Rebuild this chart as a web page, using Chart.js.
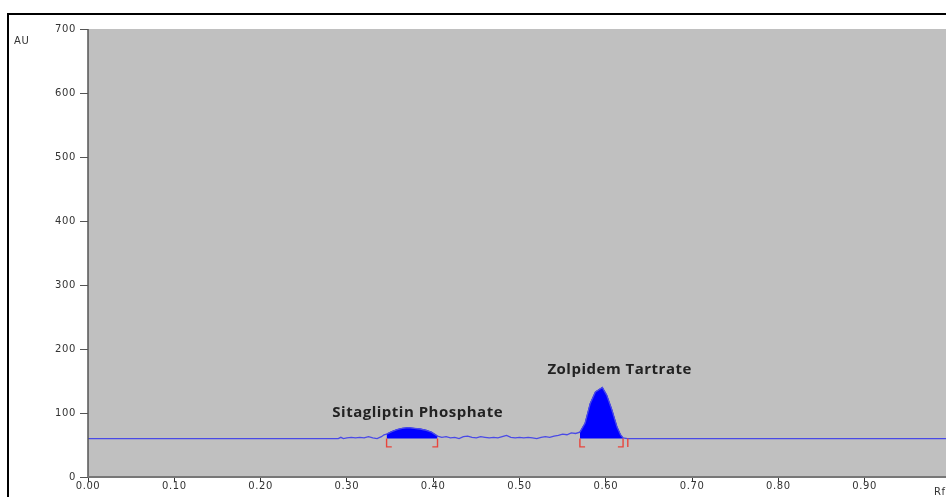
<!DOCTYPE html>
<html>
<head>
<meta charset="utf-8">
<script src="https://cdn.jsdelivr.net/npm/chart.js@4.4.0/dist/chart.umd.min.js"></script>
<style>
  html, body { margin: 0; padding: 0; background: #fff; overflow: hidden; }
  #wrap { position: relative; width: 946px; height: 497px; overflow: hidden; }
  #frame { position: absolute; left: 7px; top: 13px; width: 980px; height: 520px; border: 2px solid #000; box-sizing: border-box; pointer-events: none; }
  canvas { position: absolute; left: 0; top: 0; }
</style>
</head>
<body>
<div id="wrap">
  <canvas id="chromChart" width="960" height="497"></canvas>
  <div id="frame"></div>
</div>
<script>
// densitogram trace: Rf vs AU
const rfValues = [0.00, 0.29, 0.293, 0.296, 0.300, 0.305, 0.310, 0.315, 0.320, 0.325, 0.330, 0.335, 0.340, 0.343,
  0.346, 0.352, 0.358, 0.364, 0.371, 0.378, 0.385, 0.392, 0.398, 0.405,
  0.410, 0.415, 0.420, 0.425, 0.430, 0.435, 0.440, 0.445, 0.450, 0.455, 0.460, 0.465, 0.470, 0.475, 0.480, 0.485,
  0.490, 0.495, 0.500, 0.505, 0.510, 0.515, 0.520, 0.525, 0.530, 0.535, 0.540, 0.545, 0.550, 0.555, 0.560, 0.565, 0.570,
  0.576, 0.582, 0.588, 0.596, 0.601, 0.607, 0.613, 0.617, 0.620, 0.625, 1.00];
const auValues = [60, 60, 62, 60, 61, 62, 61, 62, 61, 63, 61, 60, 63, 66,
  67, 71, 74, 76, 77, 76, 75, 73, 70, 64,
  62, 63, 61, 62, 60, 63, 64, 62, 61, 63, 62, 61, 62, 61, 63, 65,
  62, 61, 62, 61, 62, 61, 60, 62, 63, 62, 64, 65, 67, 66, 69, 68, 70,
  84, 115, 133, 140, 128, 105, 78, 66, 61, 60, 60];

const yTicks = [0, 100, 200, 300, 400, 500, 600, 700];
const xTicks = [0.0, 0.1, 0.2, 0.3, 0.4, 0.5, 0.6, 0.7, 0.8, 0.9];

// integrated peaks (start Rf, end Rf) and their names
const peakNames = ['Sitagliptin Phosphate', 'Zolpidem Tartrate'];
const peakStart = [0.346, 0.570];
const peakEnd = [0.405, 0.620];
const labelRf = [0.382, 0.616];
const labelAu = [101, 167];
const baselineAu = 60;

// red integration brackets
const bracketRf = [0.346, 0.405, 0.570, 0.620, 0.6255];
const bracketDir = [1, -1, 1, -1, 0];
const bracketLow = 47;

const tracePts = rfValues.map((x, i) => ({ x: x, y: auValues[i] }));

const datasets = [];
peakStart.forEach((s, i) => {
  datasets.push({
    data: tracePts.filter(p => p.x >= s && p.x <= peakEnd[i]),
    borderColor: '#0000ff',
    borderWidth: 1,
    backgroundColor: '#0000ff',
    fill: { value: baselineAu },
    pointRadius: 0,
    order: 2
  });
});
datasets.push({
  data: tracePts,
  borderColor: '#4a4ae6',
  borderWidth: 1.3,
  fill: false,
  pointRadius: 0,
  order: 1
});
bracketRf.forEach((x, i) => {
  datasets.push({
    data: [{ x: x, y: baselineAu }, { x: x, y: bracketLow }, { x: x + bracketDir[i] * 0.006, y: bracketLow }],
    borderColor: '#e8453c',
    borderWidth: 1.4,
    fill: false,
    pointRadius: 0,
    order: 0
  });
});

const tickFont = { family: '"DejaVu Sans", sans-serif', size: 10 };

const plotBg = {
  id: 'plotBg',
  beforeDraw(chart) {
    const { ctx, chartArea: a } = chart;
    ctx.save();
    ctx.fillStyle = '#c0c0c0';
    ctx.fillRect(a.left, a.top, a.right - a.left, a.bottom - a.top);
    ctx.restore();
    // the instrument's tick font is drawn wide
    ctx.letterSpacing = '0.6px';
  },
  afterDraw(chart) {
    const { ctx, chartArea: a, scales } = chart;
    ctx.save();
    // axes
    ctx.strokeStyle = '#555';
    ctx.lineWidth = 1.5;
    ctx.beginPath();
    ctx.moveTo(a.left, a.top);
    ctx.lineTo(a.left, a.bottom);
    ctx.stroke();
    ctx.strokeStyle = '#777';
    ctx.lineWidth = 2;
    ctx.beginPath();
    ctx.moveTo(a.left, a.bottom);
    ctx.lineTo(a.right, a.bottom);
    ctx.stroke();
    // peak names
    ctx.letterSpacing = '0.5px';
    ctx.fillStyle = '#222';
    ctx.font = 'bold 15px "Open Sans", sans-serif';
    ctx.textAlign = 'center';
    ctx.textBaseline = 'middle';
    peakNames.forEach((t, i) => {
      ctx.fillText(t, scales.x.getPixelForValue(labelRf[i]), scales.y.getPixelForValue(labelAu[i]));
    });
    // axis titles
    ctx.letterSpacing = '0.6px';
    ctx.fillStyle = '#333';
    ctx.font = '10px "DejaVu Sans", sans-serif';
    ctx.textAlign = 'left';
    ctx.fillText('AU', 14, 41);
    ctx.fillText('Rf', 934, 492);
    ctx.restore();
    ctx.letterSpacing = '0px';
  }
};

new Chart(document.getElementById('chromChart'), {
  type: 'line',
  data: { datasets: datasets },
  options: {
    responsive: false,
    animation: false,
    layout: { padding: { top: 29, right: 9, left: 0, bottom: 0 } },
    plugins: { legend: { display: false }, tooltip: { enabled: false } },
    scales: {
      x: {
        type: 'linear',
        min: 0,
        max: 1,
        afterBuildTicks: s => { s.ticks = xTicks.map(v => ({ value: v })); },
        afterFit: s => { s.height = 20; },
        grid: { drawOnChartArea: false, drawTicks: true, tickLength: 5, color: '#333' },
        border: { display: false },
        ticks: {
          padding: -2,
          color: '#333',
          font: tickFont,
          callback: v => v.toFixed(2),
          maxRotation: 0
        }
      },
      y: {
        min: 0,
        max: 700,
        afterBuildTicks: s => { s.ticks = yTicks.map(v => ({ value: v })); },
        afterFit: s => { s.width = 88; },
        grid: { drawOnChartArea: false, drawTicks: true, tickLength: 8, color: '#555' },
        border: { display: false },
        ticks: {
          padding: 4,
          color: '#333',
          font: tickFont
        }
      }
    }
  },
  plugins: [plotBg]
});
</script>
</body>
</html>
